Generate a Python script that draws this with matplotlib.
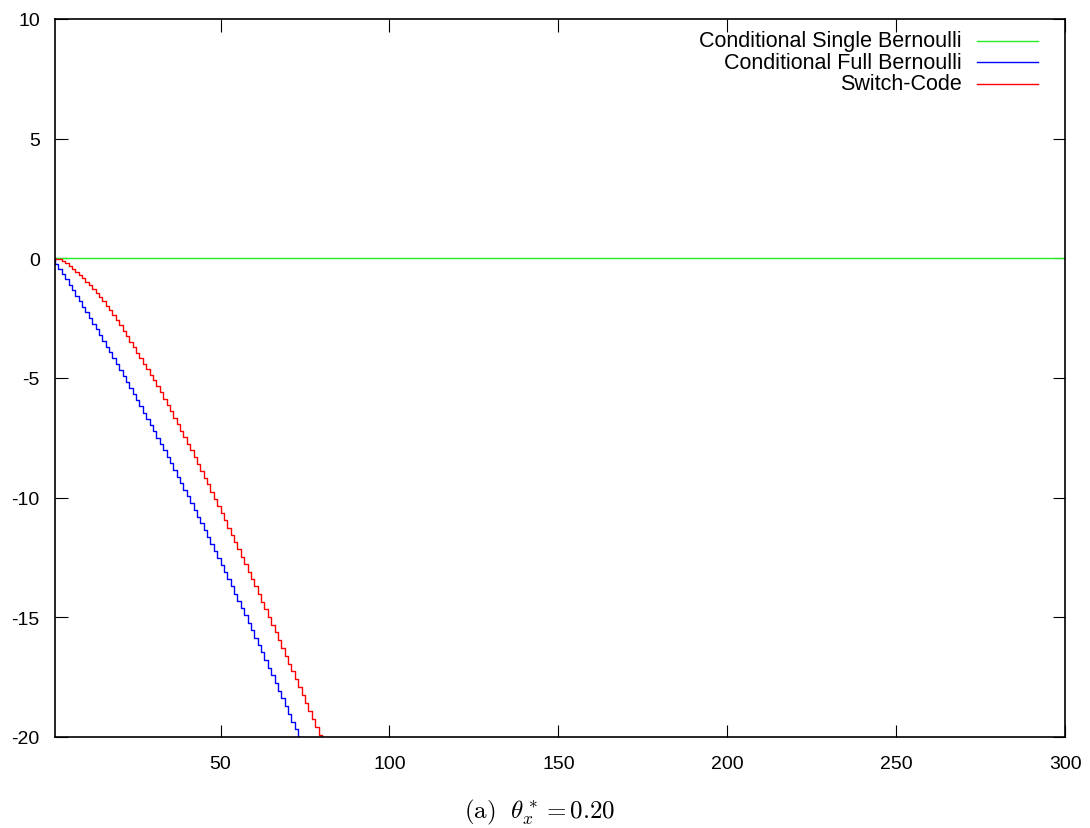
import numpy as np
import matplotlib
matplotlib.use("Agg")
import matplotlib.pyplot as plt
from matplotlib.lines import Line2D

plt.rcParams["font.family"] = ["Liberation Sans", "DejaVu Sans"]
plt.rcParams["mathtext.fontset"] = "cm"

# Code-length differences per sample (one step per sample)
x_max = 300
single_bernoulli = [0.0, 0.0]

full_bernoulli = [
    0.00, -0.22, -0.44, -0.66, -0.88, -1.11, -1.34, -1.56, -1.79, -2.02,
    -2.26, -2.49, -2.73, -2.96, -3.20, -3.44, -3.69, -3.93, -4.17, -4.42,
    -4.67, -4.92, -5.17, -5.42, -5.68, -5.93, -6.19, -6.45, -6.71, -6.97,
    -7.23, -7.50, -7.76, -8.03, -8.30, -8.57, -8.85, -9.12, -9.39, -9.67,
    -9.95, -10.23, -10.51, -10.80, -11.08, -11.37, -11.66, -11.95, -12.24, -12.53,
    -12.82, -13.12, -13.42, -13.71, -14.02, -14.32, -14.62, -14.92, -15.23, -15.54,
    -15.85, -16.16, -16.47, -16.79, -17.10, -17.42, -17.74, -18.06, -18.38, -18.70,
    -19.03, -19.36, -19.68, -20.01, -20.34,
]

switch_code = [
    0.00, -0.01, -0.04, -0.10, -0.20, -0.32, -0.44, -0.57, -0.70, -0.84,
    -0.98, -1.13, -1.29, -1.45, -1.62, -1.80, -1.98, -2.17, -2.36, -2.58,
    -2.80, -3.03, -3.26, -3.49, -3.72, -3.95, -4.18, -4.41, -4.64, -4.87,
    -5.10, -5.34, -5.60, -5.86, -6.12, -6.39, -6.66, -6.93, -7.20, -7.47,
    -7.74, -8.02, -8.30, -8.58, -8.87, -9.16, -9.45, -9.75, -10.05, -10.35,
    -10.65, -10.95, -11.25, -11.55, -11.85, -12.16, -12.47, -12.78, -13.09, -13.40,
    -13.71, -14.03, -14.35, -14.67, -14.99, -15.31, -15.63, -15.95, -16.27, -16.60,
    -16.93, -17.26, -17.59, -17.92, -18.25, -18.58, -18.91, -19.24, -19.57, -19.90,
    -20.23, -20.56,
]

series = [
    ("Conditional Single Bernoulli", [1, x_max], single_bernoulli, "#22ee22"),
    ("Conditional Full Bernoulli", np.arange(1, len(full_bernoulli) + 1), full_bernoulli, "#0000ff"),
    ("Switch-Code", np.arange(1, len(switch_code) + 1), switch_code, "#ff0000"),
]

fig = plt.figure(figsize=(10.90, 8.29), dpi=100)
ax = fig.add_axes([0.0505, 0.1098, 0.9266, 0.8661])

for label, xs, ys, color in series:
    ax.step(xs, ys, where="pre", color=color, lw=1.0, clip_on=True)

ax.set_xlim(1, 300)
ax.set_ylim(-20, 10)
ax.set_xticks([50, 100, 150, 200, 250, 300])
ax.set_yticks([-20, -15, -10, -5, 0, 5, 10])
ax.set_yticklabels(["-20", "-15", "-10", "-5", "0", "5", "10"])
ax.tick_params(direction="in", length=9, width=0.8, top=True, right=True,
               labelsize=14, pad=11, colors="black")
ax.tick_params(axis="x", pad=13)
for s in ax.spines.values():
    s.set_linewidth(1.2)

# gnuplot-style key: right-aligned text with the line sample after it
rows = [0.9698, 0.9397, 0.9095]
for (label, xs, ys, color), ry in zip(series, rows):
    ax.text(0.898, ry, label, transform=ax.transAxes, ha="right", va="center", fontsize=15.5)
    ax.add_line(Line2D([0.913, 0.973], [ry, ry], transform=ax.transAxes, color=color, lw=1.0))

fig.text(0.495, 0.0205, r"$\mathrm{(a)}\ \ \theta_x^* = 0.20$", ha="center", va="center", fontsize=18)

fig.savefig("out.png", dpi=100)
